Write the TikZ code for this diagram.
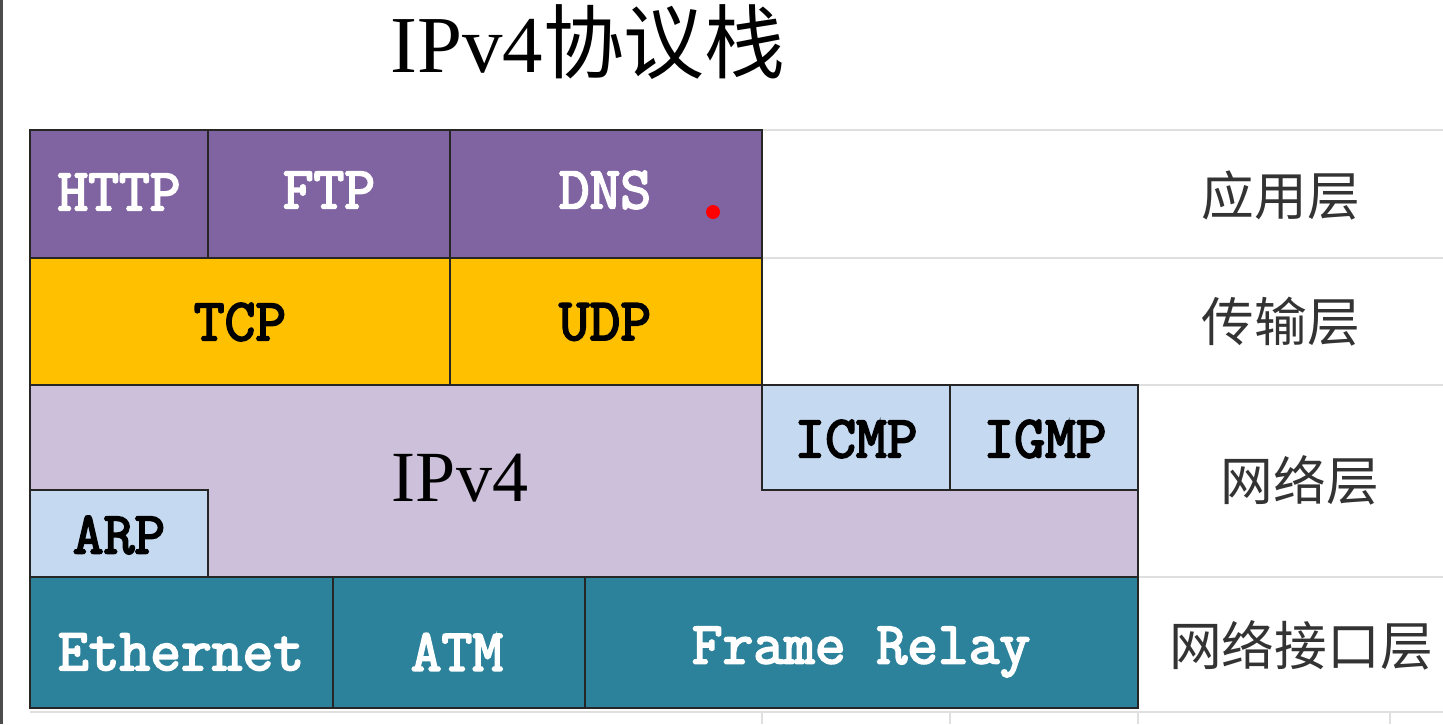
\documentclass[tikz,border=0pt]{standalone}
\usepackage{fontspec}
\setmainfont{Liberation Serif}
\newfontfamily\monofont[FakeBold=3.2]{Latin Modern Mono}
\newfontfamily\cjkfont{Noto Sans CJK SC}
\usepackage{xcolor}
\definecolor{appviolet}{RGB}{128,100,162}
\definecolor{tpgold}{RGB}{255,192,0}
\definecolor{netlilac}{RGB}{204,192,218}
\definecolor{netblue}{RGB}{197,217,241}
\definecolor{linkteal}{RGB}{44,130,155}
\usetikzlibrary{positioning}

\tikzset{
  cell/.style={draw=black!85, line width=1.1pt},
  proto/.style={font=\monofont\fontsize{34}{35}\selectfont},
  layer/.style={font=\cjkfont\fontsize{30}{32}\selectfont, text=black!80},
  faint/.style={draw=gray!25, line width=0.8pt}
}

\begin{document}
\begin{tikzpicture}[x=0.02cm, y=-0.02cm]
  \useasboundingbox (0,0) rectangle (1443,724);
  % screen edge and faint table lines
  \draw[black!70, line width=2pt] (1,0) -- (1,724);
  \foreach \y in {130,258} \draw[faint] (762,\y) -- (1443,\y);
  \foreach \y in {385,577} \draw[faint] (1138,\y) -- (1443,\y);
  \draw[faint] (30,712) -- (1443,712);
  \foreach \x in {762,950,1138,1390} \draw[faint] (\x,712) -- (\x,724);
  % title
  \node (title) at (588,42) {\fontsize{46}{48}\selectfont IPv4{\cjkfont 协议栈}};
  % application layer
  \draw[cell, fill=appviolet] (30,130) rectangle (208,258);
  \draw[cell, fill=appviolet] (208,130) rectangle (450,258);
  \draw[cell, fill=appviolet] (450,130) rectangle (762,258);
  \node[proto, text=white] (http) at (119,192) {HTTP};
  \node[proto, text=white] (ftp) at (329,190) {FTP};
  \node[proto, text=white] (dns) at (605,190) {DNS};
  % transport layer
  \draw[cell, fill=tpgold] (30,258) rectangle (450,385);
  \draw[cell, fill=tpgold] (450,258) rectangle (762,385);
  \node[proto] (tcp) at (240,322) {TCP};
  \node[proto] (udp) at (605,322) {UDP};
  % network layer
  \draw[cell, fill=netlilac] (30,385) -- (762,385) -- (762,490) -- (1138,490)
    -- (1138,577) -- (30,577) -- cycle;
  \draw[cell, fill=netblue] (762,385) rectangle (950,490);
  \draw[cell, fill=netblue] (950,385) rectangle (1138,490);
  \draw[cell, fill=netblue] (30,490) rectangle (208,577);
  \node[font=\fontsize{41}{42}\selectfont] (ipv4) at (460,478) {IPv4};
  \node[proto] (icmp) at (856,439) {ICMP};
  \node[proto] (igmp) at (1045,439) {IGMP};
  \node[proto] (arp) at (119,535) {ARP};
  % link layer
  \draw[cell, fill=linkteal] (30,577) rectangle (333,708);
  \draw[cell, fill=linkteal] (333,577) rectangle (585,708);
  \draw[cell, fill=linkteal] (585,577) rectangle (1138,708);
  \node[proto, text=white] (eth) at (181,652) {Ethernet};
  \node[proto, text=white] (atm) at (457,652) {ATM};
  \node[proto, text=white] (fr) at (861,652) {Frame Relay};
  % layer names
  \node[layer] (app) at (1281,195) {应用层};
  \node[layer] (trans) at (1281,322) {传输层};
  \node[layer] (net) at (1300,480) {网络层};
  \node[layer] (link) at (1301,645) {网络接口层};
  % pointer
  \fill[red] (713,212) circle (7);
\end{tikzpicture}
\end{document}
